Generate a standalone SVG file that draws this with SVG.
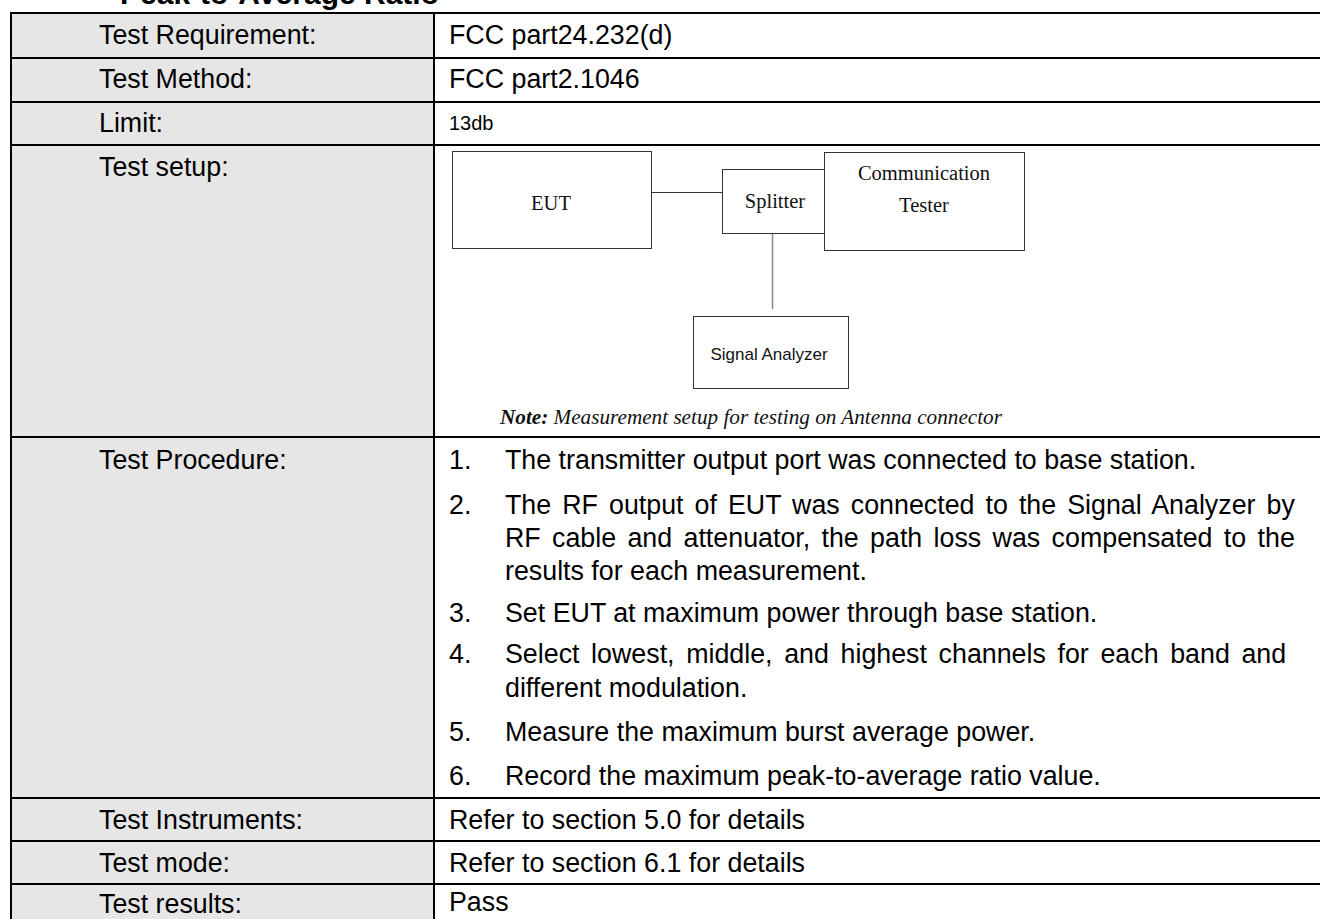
<svg xmlns="http://www.w3.org/2000/svg" width="1320" height="919" viewBox="0 0 1320 919">
  <style>
    .cell{font-family:"Liberation Sans",Arial,sans-serif;font-size:26.8px;fill:#000}
    .small{font-size:20px}
    .grid{stroke:#000;stroke-width:2;fill:none}
    .box{fill:#fff;stroke:#333;stroke-width:1}
    .serif{font-family:"Liberation Serif","Times New Roman",serif;font-size:20.5px;fill:#111}
    .note{font-size:21.2px;font-style:italic}
    .sans{font-family:"Liberation Sans",Arial,sans-serif;font-size:17px;fill:#111}
    .wire{stroke:#333;stroke-width:1;fill:none}
    .wire-v{stroke:#888;stroke-width:1.5;fill:none}
  </style>
  <rect x="0" y="0" width="1320" height="919" fill="#fff"/>

  <!-- section heading, cut by the page edge -->
  <text x="120" y="4" font-family="Liberation Sans, Arial, sans-serif" font-size="30" font-weight="bold">Peak-to-Average Ratio</text>

  <!-- table grid -->
  <g id="table">
    <rect x="11" y="13" width="423" height="906" fill="#e6e6e6"/>
    <path class="grid" d="M10 13H1320M10 58H1320M10 102H1320M10 145H1320M10 437H1320M10 798H1320M10 841H1320M10 884H1320"/>
    <path class="grid" d="M11 12V919M434 12V919"/>
  </g>

  <!-- row labels -->
  <g id="labels" class="cell">
    <text x="99" y="44">Test Requirement:</text>
    <text x="99" y="88">Test Method:</text>
    <text x="99" y="132">Limit:</text>
    <text x="99" y="176">Test setup:</text>
    <text x="99" y="469">Test Procedure:</text>
    <text x="99" y="829">Test Instruments:</text>
    <text x="99" y="872">Test mode:</text>
    <text x="99" y="913">Test results:</text>
  </g>

  <!-- row values -->
  <g id="values" class="cell">
    <text x="449" y="44">FCC part24.232(d)</text>
    <text x="449" y="88">FCC part2.1046</text>
    <text x="449" y="130" class="small">13db</text>
    <text x="449" y="829">Refer to section 5.0 for details</text>
    <text x="449" y="872">Refer to section 6.1 for details</text>
    <text x="449" y="911">Pass</text>
  </g>

  <!-- procedure steps (wrapped lines justified) -->
  <g id="procedure" class="cell">
    <text x="449" y="469">1.</text><text x="505" y="469">The transmitter output port was connected to base station.</text>
    <text x="449" y="514">2.</text><text x="505" y="514" word-spacing="3.6">The RF output of EUT was connected to the Signal Analyzer by</text>
    <text x="505" y="547" word-spacing="3.9">RF cable and attenuator, the path loss was compensated to the</text>
    <text x="505" y="580">results for each measurement.</text>
    <text x="449" y="622">3.</text><text x="505" y="622">Set EUT at maximum power through base station.</text>
    <text x="449" y="663">4.</text><text x="505" y="663" word-spacing="4.2">Select lowest, middle, and highest channels for each band and</text>
    <text x="505" y="697">different modulation.</text>
    <text x="449" y="741">5.</text><text x="505" y="741">Measure the maximum burst average power.</text>
    <text x="449" y="785">6.</text><text x="505" y="785">Record the maximum peak-to-average ratio value.</text>
  </g>

  <!-- setup diagram: connectors -->
  <g id="connectors">
    <path class="wire" d="M651 192.5H722"/>
    <path class="wire-v" d="M772.5 234V309"/>
  </g>

  <!-- setup diagram: equipment -->
  <g id="eut">
    <rect class="box" x="452.5" y="151.5" width="199" height="97"/>
    <text class="serif" x="551" y="210" text-anchor="middle">EUT</text>
  </g>
  <g id="splitter">
    <rect class="box" x="722.5" y="169.5" width="102" height="64"/>
    <text class="serif" x="775" y="208" text-anchor="middle">Splitter</text>
  </g>
  <g id="comm-tester">
    <rect class="box" x="824.5" y="152.5" width="200" height="98"/>
    <text class="serif" x="924" y="180" text-anchor="middle">Communication</text>
    <text class="serif" x="924" y="212" text-anchor="middle">Tester</text>
  </g>
  <g id="signal-analyzer">
    <rect class="box" x="693.5" y="316.5" width="155" height="72"/>
    <text class="sans" x="769" y="360" text-anchor="middle">Signal Analyzer</text>
  </g>

  <text class="serif note" x="500" y="424"><tspan font-weight="bold">Note:</tspan> Measurement setup for testing on Antenna connector</text>
</svg>
